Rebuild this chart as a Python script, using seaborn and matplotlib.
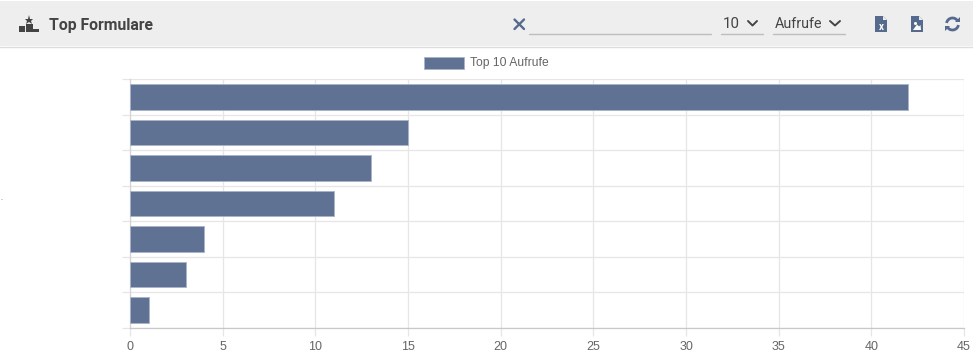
import matplotlib
matplotlib.use("Agg")
import matplotlib.pyplot as plt
from matplotlib.patches import Rectangle, Polygon, Arc
import pandas as pd
import seaborn as sns

forms = ["Formular 1", "Formular 2", "Formular 3", "Formular 4", "Formular 5", "Formular 6", "Formular 7"]
views = [42, 15, 13, 11, 4, 3, 1]
series_name = "Top 10 Aufrufe"
x_ticks = [0, 5, 10, 15, 20, 25, 30, 35, 40, 45]
title = "Top Formulare"

W, H = 973, 356
BAR = "#607294"
EDGE = "#a9b4c8"
ICON = "#566a8e"
DARK = "#444444"
GRID = "#e6e6e6"
LINE = "#bdbdbd"

sns.set_theme(style="white")
plt.rcParams["font.family"] = ["Liberation Sans", "DejaVu Sans"]

fig = plt.figure(figsize=(W / 100, H / 100), dpi=100, facecolor="white")
L, R, T, B = 130, 964, 79, 328
ax = fig.add_axes([L / W, 1 - B / H, (R - L) / W, (B - T) / H])

df = pd.DataFrame({"form": forms, "views": views})
sns.barplot(data=df, x="views", y="form", orient="h", color=BAR, saturation=1,
            width=0.72, edgecolor=EDGE, linewidth=0.6, ax=ax, zorder=3)
ax.set_xlim(0, 45)
ax.set_ylim(len(forms) - 0.5, -0.5)
ax.set_xlabel("")
ax.set_ylabel("")
ax.set_xticks(x_ticks)
ax.set_yticks([i - 0.5 for i in range(len(forms) + 1)])
ax.set_yticklabels([])
ax.grid(True, color=GRID, linewidth=0.9, zorder=0)
ax.set_axisbelow(True)
ax.tick_params(axis="x", length=5.8, width=0.9, color=GRID, labelsize=9, labelcolor="#666666", pad=3.8, bottom=True)
ax.tick_params(axis="y", length=5.8, width=0.9, color=GRID, left=True)
for side in ["top", "right"]:
    ax.spines[side].set_visible(False)
ax.spines["left"].set_color("#d4d4d4")
ax.spines["left"].set_linewidth(0.9)
ax.spines["bottom"].set_color("#c8c8c8")
ax.spines["bottom"].set_linewidth(0.9)

ov = fig.add_axes([0, 0, 1, 1], zorder=5)
ov.set_xlim(0, W)
ov.set_ylim(H, 0)
ov.axis("off")
ov.patch.set_alpha(0)

# toolbar band
ov.add_patch(Rectangle((0, 1), W, 45, facecolor="#eeeeee", edgecolor="none"))
ov.plot([0, W], [46.5, 46.5], color="#dddddd", lw=1)

# podium icon
for x0, y0, w, h in [(19, 26, 6, 6), (26, 24, 6.5, 8), (33, 28.5, 6, 3.5)]:
    ov.add_patch(Rectangle((x0, y0), w, h, facecolor=DARK, edgecolor="none"))
ov.plot([28.7], [19.5], marker="*", ms=6.5, color=DARK, mew=0)

ov.text(49, 25.5, title, fontfamily="Roboto", fontweight="bold", fontsize=11.3, color=DARK, va="center", ha="left")

# search clear cross and input underline
ov.plot([514.5, 524], [19.5, 29], color=ICON, lw=1.7)
ov.plot([514.5, 524], [29, 19.5], color=ICON, lw=1.7)
ov.plot([529, 711], [33.5, 33.5], color=LINE, lw=1)

# selects
ov.text(723, 23.5, "10", fontfamily="Roboto", fontsize=10.8, color=DARK, va="center", ha="left")
ov.plot([748, 752.5, 757], [21, 25.5, 21], color=DARK, lw=1.4)
ov.plot([721, 763], [34, 34], color=LINE, lw=1)
ov.text(775, 23.5, "Aufrufe", fontfamily="Roboto", fontsize=10.3, color=DARK, va="center", ha="left")
ov.plot([830, 835, 840], [21, 25.5, 21], color=DARK, lw=1.4)
ov.plot([773, 845], [34, 34], color=LINE, lw=1)

# file icons
for x0 in (875, 911):
    ov.add_patch(Polygon([(x0, 16), (x0 + 8, 16), (x0 + 12, 20), (x0 + 12, 32), (x0, 32)],
                         closed=True, facecolor=ICON, edgecolor="none"))
    ov.add_patch(Polygon([(x0 + 8, 16), (x0 + 8, 20), (x0 + 12, 20)], closed=True,
                         facecolor="#eeeeee", edgecolor="none"))
ov.text(881, 27, "x", fontfamily="Roboto", fontweight="bold", fontsize=7, color="white", ha="center", va="center")
ov.add_patch(Polygon([(913, 30), (917, 24.5), (919, 26.5), (920.5, 25), (921, 30)], closed=True,
                     facecolor="white", edgecolor="none"))
ov.plot([914.5], [22.5], marker="o", ms=2.2, color="white", mew=0)

# refresh icon
ov.add_patch(Arc((952.5, 24), 12, 12, theta1=190, theta2=330, color=ICON, lw=2))
ov.add_patch(Arc((952.5, 24), 12, 12, theta1=10, theta2=150, color=ICON, lw=2))
ov.add_patch(Polygon([(955, 22), (960, 22), (960, 17)], closed=True, facecolor=ICON, edgecolor="none"))
ov.add_patch(Polygon([(950, 26), (945, 26), (945, 31)], closed=True, facecolor=ICON, edgecolor="none"))

# legend
ov.add_patch(Rectangle((424, 56.5), 39.5, 12, facecolor=BAR, edgecolor=EDGE, lw=0.6))
ov.text(470, 63, series_name, fontsize=8.75, color="#666666", va="center", ha="left")

# stray mark on the left edge
ov.text(1, 198, ".", fontsize=5, color="#555555", va="center", ha="center")

fig.savefig("out.png", dpi=100, facecolor="white")
